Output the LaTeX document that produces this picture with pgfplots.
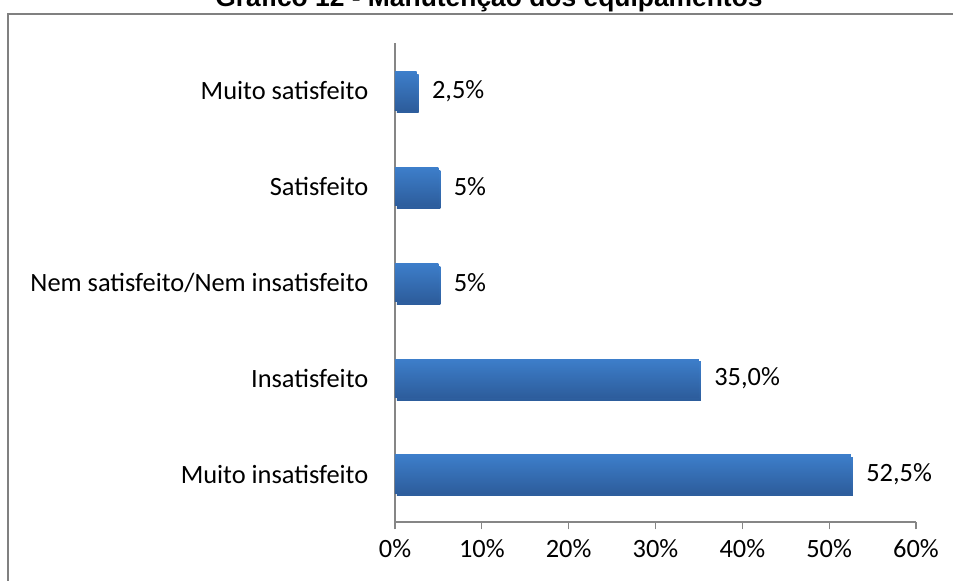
\documentclass[border=0pt]{standalone}
\usepackage{pgfplots}
\pgfplotsset{compat=1.18}
\usepackage{fontspec}
\setmainfont{Carlito}
\newfontfamily\titlefont{Liberation Sans}
\definecolor{axgray}{RGB}{134,134,134}
\definecolor{frame}{RGB}{128,128,128}
\definecolor{bartop}{RGB}{61,126,202}
\definecolor{barbot}{RGB}{45,93,156}
\begin{document}
\begin{tikzpicture}
\clip (0,0) rectangle (714.75pt,435.75pt);
\draw[frame,line width=1.5pt] (6pt,0pt) -- (6pt,425.6pt) -- (714.75pt,425.6pt);
\node[anchor=base,font=\titlefont\bfseries\fontsize{19.8pt}{22pt}\selectfont,inner sep=0pt] at (366.75pt,430.5pt) {Gráfico 12 - Manutenção dos equipamentos};
\begin{axis}[
  at={(296.25pt,44.25pt)}, anchor=south west,
  scale only axis, width=390.75pt, height=359.25pt,
  xmin=0, xmax=60, ymin=-0.5, ymax=4.5,
  axis lines=left, axis line style={axgray, line width=0.9pt, -},
  xtick={0,10,...,60},
  xticklabels={0\%,10\%,20\%,30\%,40\%,50\%,60\%},
  ytick={0,1,2,3,4},
  yticklabels={Muito insatisfeito,Insatisfeito,Nem satisfeito/Nem insatisfeito,Satisfeito,Muito satisfeito},
  extra y ticks={-0.5,0.5,1.5,2.5,3.5,4.5},
  extra y tick labels={},
  extra y tick style={major tick length=5pt, tick style={axgray, line width=0.9pt}},
  y tick style={draw=none},
  x tick style={axgray, line width=0.9pt},
  tick align=outside, major tick length=5.5pt,
  ticklabel style={font=\fontsize{19.8pt}{22pt}\selectfont, text=black},
  xticklabel style={yshift=-4pt},
  yticklabel style={xshift=-11pt},
  /pgf/number format/assume math mode=true,
  clip=false,
  nodes near coords, point meta=explicit symbolic,
  every node near coord/.append style={font=\fontsize{19.8pt}{22pt}\selectfont, anchor=west, xshift=8pt, text=black},
  bstyle/.style={xbar, bar width=0.4, bar shift=0pt, draw=none,
    top color=bartop, bottom color=barbot,
    preaction={fill=black!15, transform canvas={shift={(1.5pt,-2pt)}}}},
]
\addplot[bstyle] coordinates {(52.5,0) [52,5\%]};
\addplot[bstyle] coordinates {(35.0,1) [35,0\%]};
\addplot[bstyle] coordinates {(5,2) [5\%]};
\addplot[bstyle] coordinates {(5,3) [5\%]};
\addplot[bstyle] coordinates {(2.5,4) [2,5\%]};
\end{axis}
\end{tikzpicture}
\end{document}
